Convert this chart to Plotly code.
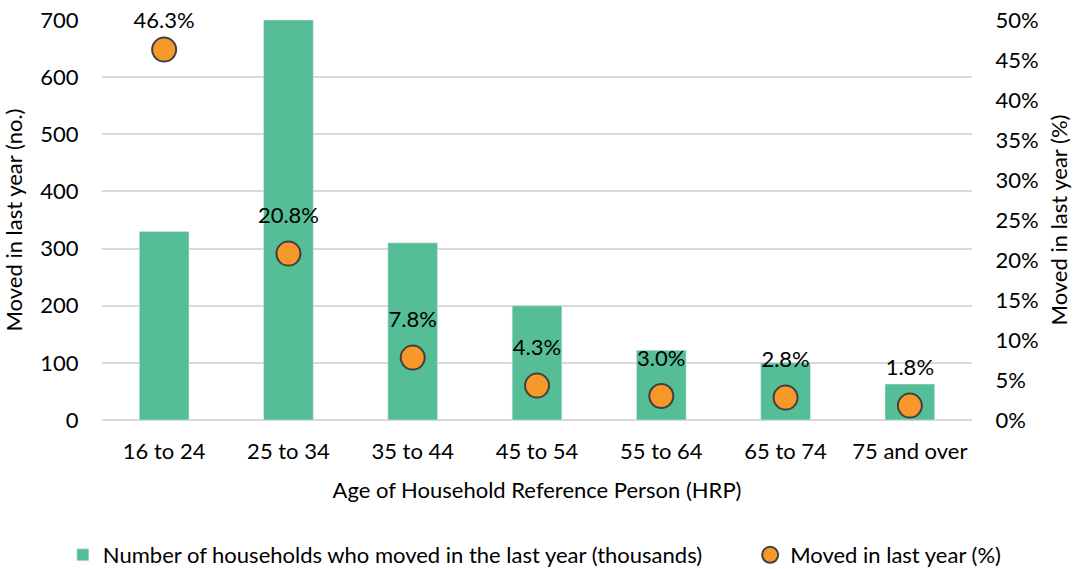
import plotly.graph_objects as go

categories = ["16 to 24", "25 to 34", "35 to 44", "45 to 54", "55 to 64", "65 to 74", "75 and over"]
households = [330, 700, 310, 200, 122, 100, 63]
moved_pct = [46.3, 20.8, 7.8, 4.3, 3.0, 2.8, 1.8]

FONT = "Lato, Open Sans, sans-serif"
FS = 22
pct_frac = [v / 100 for v in moved_pct]
pct_text = [f"{v:.1f}%" for v in moved_pct]
# spacing of label above each marker (first label sits closer, as in the original)
label_gap = [24] + [38] * (len(categories) - 1)

fig = go.Figure()
fig.add_trace(go.Bar(
    x=categories, y=households,
    name="Number of households who moved in the last year (thousands)",
    marker=dict(color="#55BE96"),
    yaxis="y", legend="legend",
))
fig.add_trace(go.Scatter(
    x=categories, y=pct_frac,
    name="Moved in last year (%)",
    mode="markers",
    marker=dict(size=24, color="#F7992A", line=dict(color="#404040", width=2)),
    yaxis="y2", legend="legend2",
    cliponaxis=False,
))
fig.add_trace(go.Scatter(
    x=categories, y=pct_frac,
    mode="markers+text",
    text=pct_text,
    textposition="top center",
    textfont=dict(size=FS, color="#000000", family=FONT),
    marker=dict(size=label_gap, opacity=0),
    yaxis="y2", showlegend=False, hoverinfo="skip",
    cliponaxis=False,
))

fig.update_layout(
    width=1076, height=569,
    margin=dict(l=102, r=104, t=20, b=149, autoexpand=False),
    plot_bgcolor="white", paper_bgcolor="white",
    font=dict(family=FONT, size=FS, color="#000000"),
    bargap=0.6,
    showlegend=True,
    legend=dict(orientation="h", x=-0.045, xanchor="left", y=-0.3375, yanchor="middle",
                font=dict(size=FS), itemwidth=30, bgcolor="rgba(0,0,0,0)"),
    legend2=dict(orientation="h", x=0.745, xanchor="left", y=-0.3375, yanchor="middle",
                 font=dict(size=FS), itemwidth=30, bgcolor="rgba(0,0,0,0)"),
    xaxis=dict(
        title=dict(text="Age of Household Reference Person (HRP)", font=dict(size=FS), standoff=19),
        range=[-0.5, len(categories) - 0.5],
        showgrid=False, ticks="outside", ticklen=12, tickcolor="rgba(0,0,0,0)", showline=False,
        tickfont=dict(size=FS),
    ),
    yaxis=dict(
        title=dict(text="Moved in last year (no.)", font=dict(size=FS), standoff=12),
        range=[0, 700], dtick=100, showgrid=True, gridcolor="#d9d9d9", gridwidth=1.5,
        zeroline=True, zerolinecolor="#d9d9d9", zerolinewidth=1.5,
        ticks="outside", ticklen=18, tickcolor="rgba(0,0,0,0)", tickfont=dict(size=FS),
    ),
    yaxis2=dict(
        title=dict(text="Moved in last year (%)", font=dict(size=FS), standoff=14),
        range=[0, 0.5], dtick=0.05, tickformat=".0%", overlaying="y", side="right",
        showgrid=False, zeroline=False,
        ticks="outside", ticklen=18, tickcolor="rgba(0,0,0,0)", tickfont=dict(size=FS),
    ),
)

fig.write_html("out.html")
